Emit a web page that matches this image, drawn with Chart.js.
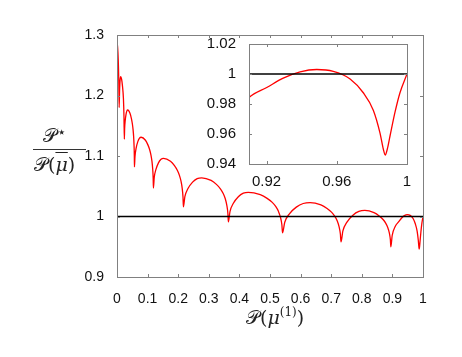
<!DOCTYPE html>
<html>
<head>
<meta charset="utf-8">
<script src="https://cdn.jsdelivr.net/npm/chart.js@4.4.0/dist/chart.umd.min.js"></script>
<style>
  body { margin:0; background:#fff; }
  #wrap { position:relative; width:462px; height:357px; overflow:hidden; }
  #main { position:absolute; left:0; top:0; }
  #inset { position:absolute; left:200px; top:30px; }
  .lbl { position:absolute; font-family:"DejaVu Serif", "Liberation Serif", serif; font-size:19px; color:#222; white-space:nowrap; line-height:1; }
  .lbl i { font-style:italic; }
  .lbl sup { font-size:12px; vertical-align:8px; }
  .lbl sup.star { font-size:15px; vertical-align:5px; font-family:"DejaVu Sans", sans-serif; }
  .ov { text-decoration:overline; }
  #ynum { left:43px; top:125px; }
  #ybar { position:absolute; left:33px; top:149px; width:53px; height:0; border-top:1px solid #333; }
  #yden { left:34px; top:155px; }
  #xlab { left:246px; top:306px; }
</style>
</head>
<body>
<div id="wrap">
  <canvas id="main" width="462" height="357"></canvas>
  <canvas id="inset" width="220" height="160"></canvas>
  <div class="lbl" id="ynum">𝒫<sup class="star">⋆</sup></div>
  <div id="ybar"></div>
  <div class="lbl" id="yden">𝒫(<i class="ov">μ</i>)</div>
  <div class="lbl" id="xlab">𝒫(<i>μ</i><sup>(1)</sup>)</div>
</div>
<script>
// values
const ratioX = [
  0.000, 0.002, 0.004, 0.0058, 0.007,
  0.0085, 0.010, 0.012, 0.015, 0.018, 0.021, 0.0228, 0.024,
  0.0249, 0.0268, 0.0295, 0.0323, 0.035, 0.0427, 0.0471, 0.0504, 0.0526, 0.0544, 0.0557, 0.0566, 0.057,
  0.0588, 0.0625, 0.068, 0.0735, 0.079, 0.093, 0.101, 0.107, 0.111, 0.1142, 0.1166, 0.1182, 0.119,
  0.1216, 0.1273, 0.1355, 0.1438, 0.152, 0.1748, 0.1878, 0.1975, 0.204, 0.2092, 0.2131, 0.2157, 0.217,
  0.2218, 0.232, 0.247, 0.262, 0.277, 0.3075, 0.3249, 0.3379, 0.3466, 0.3536, 0.3588, 0.3623, 0.364,
  0.3692, 0.3803, 0.3965, 0.4128, 0.429, 0.4682, 0.4906, 0.5074, 0.5186, 0.5276, 0.5343, 0.5388, 0.541,
  0.5482, 0.5635, 0.586, 0.6085, 0.631, 0.6664, 0.6866, 0.7017, 0.7118, 0.7199, 0.7259, 0.730, 0.732,
  0.7382, 0.7515, 0.771, 0.7905, 0.810, 0.8398, 0.8568, 0.8695, 0.878, 0.8848, 0.8899, 0.8933, 0.895,
  0.8993, 0.910, 0.9201, 0.9295, 0.9391, 0.9486, 0.958, 0.9676, 0.9751, 0.9808,
  0.9846, 0.9865, 0.9876, 0.9888, 0.9903, 0.9932, 0.996, 1.000
];
const ratioY = [
  1.288, 1.280, 1.260, 1.225, 1.180,
  1.210, 1.225, 1.231, 1.227, 1.215, 1.195, 1.165, 1.128,
  1.1448, 1.1582, 1.1688, 1.1746, 1.176, 1.1704, 1.1619, 1.1525, 1.1431, 1.1318, 1.1177, 1.1008, 1.082,
  1.0992, 1.1129, 1.1237, 1.1295, 1.131, 1.126, 1.1184, 1.110, 1.1016, 1.0915, 1.0789, 1.0638, 1.047,
  1.0642, 1.0779, 1.0887, 1.0945, 1.096, 1.0912, 1.084, 1.076, 1.068, 1.0584, 1.0464, 1.032, 1.016,
  1.0328, 1.0462, 1.0568, 1.0626, 1.064, 1.0596, 1.0531, 1.0458, 1.0385, 1.0297, 1.0187, 1.0056, 0.991,
  1.0082, 1.0219, 1.0327, 1.0385, 1.040, 1.036, 1.030, 1.0233, 1.0166, 1.0085, 0.9985, 0.9864, 0.973,
  0.9905, 1.0045, 1.0155, 1.0215, 1.023, 1.0191, 1.0133, 1.0068, 1.0003, 0.9925, 0.9827, 0.971, 0.958,
  0.9762, 0.9908, 1.0022, 1.0084, 1.010, 1.0064, 1.001, 0.995, 0.989, 0.9818, 0.9728, 0.962, 0.950,
  0.9686, 0.9844, 0.991, 0.9972, 1.0014, 1.003, 1.0018, 0.9967, 0.9875, 0.9759,
  0.9608, 0.950, 0.946, 0.950, 0.9585, 0.9747, 0.9875, 1.000
];
const refX = [0, 1];
const refY = [1, 1];

const xTicks = [0, 0.1, 0.2, 0.3, 0.4, 0.5, 0.6, 0.7, 0.8, 0.9, 1];
const xTickLabels = ['0', '0.1', '0.2', '0.3', '0.4', '0.5', '0.6', '0.7', '0.8', '0.9', '1'];
const yTicks = [0.9, 1, 1.1, 1.2, 1.3];
const yTickLabels = ['0.9', '1', '1.1', '1.2', '1.3'];
const insetXTicks = [0.92, 0.96, 1];
const insetXTickLabels = ['0.92', '0.96', '1'];
const insetYTicks = [0.94, 0.96, 0.98, 1, 1.02];
const insetYTickLabels = ['0.94', '0.96', '0.98', '1', '1.02'];

const pts = (xs, ys) => xs.map((x, i) => ({x: x, y: ys[i]}));

// box round the plot + inward tick marks on all four sides (matlab look)
const boxTicks = {
  id: 'boxTicks',
  afterDraw(chart, args, opts){
    const {ctx, chartArea: a, scales: {x, y}} = chart;
    const L = opts.len || 3;
    ctx.save();
    ctx.strokeStyle = opts.color || '#808080';
    ctx.lineWidth = 1;
    ctx.beginPath();
    x.ticks.forEach(t => {
      const px = Math.round(x.getPixelForValue(t.value)) + 0.5;
      ctx.moveTo(px, a.bottom); ctx.lineTo(px, a.bottom - L);
      ctx.moveTo(px, a.top); ctx.lineTo(px, a.top + L);
    });
    y.ticks.forEach(t => {
      const py = Math.round(y.getPixelForValue(t.value)) + 0.5;
      ctx.moveTo(a.left, py); ctx.lineTo(a.left + L, py);
      ctx.moveTo(a.right, py); ctx.lineTo(a.right - L, py);
    });
    ctx.stroke();
    ctx.strokeRect(Math.round(a.left) + 0.5, Math.round(a.top) + 0.5,
                   Math.round(a.right - a.left), Math.round(a.bottom - a.top));
    ctx.restore();
  }
};

function makeChart(el, o){
  return new Chart(el, {
    type: 'line',
    data: {
      datasets: [
        {data: pts(refX, refY), borderColor: '#000', borderWidth: 1.5, pointRadius: 0, tension: 0},
        {data: pts(ratioX, ratioY), borderColor: '#ff0000', borderWidth: 1.3, pointRadius: 0,
         cubicInterpolationMode: 'monotone'}
      ]
    },
    options: {
      responsive: false,
      animation: false,
      devicePixelRatio: 1,
      layout: {padding: o.pad},
      plugins: {legend: {display: false}, tooltip: {enabled: false}, boxTicks: {len: o.tickLen}},
      scales: {
        x: {
          type: 'linear', min: o.xmin, max: o.xmax,
          grid: {display: false}, border: {display: false},
          afterBuildTicks: s => { s.ticks = o.xt.map(v => ({value: v})); },
          afterFit: s => { s.height = o.xh; },
          ticks: {
            autoSkip: false, maxRotation: 0, padding: o.xpad, color: '#111',
            font: {family: '"Liberation Sans", Arial, sans-serif', size: o.fs},
            callback: (v, i) => o.xl[i]
          }
        },
        y: {
          type: 'linear', min: o.ymin, max: o.ymax,
          grid: {display: false}, border: {display: false},
          afterBuildTicks: s => { s.ticks = o.yt.map(v => ({value: v})); },
          afterFit: s => { s.width = o.yw; },
          ticks: {
            autoSkip: false, padding: o.ypad, color: '#111',
            font: {family: '"Liberation Sans", Arial, sans-serif', size: o.fs},
            callback: (v, i) => o.yl[i]
          }
        }
      }
    },
    plugins: [boxTicks]
  });
}

makeChart(document.getElementById('main'), {
  pad: {top: 35, right: 39, left: 0, bottom: 0},
  xmin: 0, xmax: 1, ymin: 0.9, ymax: 1.3,
  xt: xTicks, xl: xTickLabels, yt: yTicks, yl: yTickLabels,
  xh: 80, yw: 117, xpad: 6, ypad: 5, fs: 14, tickLen: 3
});

makeChart(document.getElementById('inset'), {
  pad: {top: 12, right: 13, left: 0, bottom: 0},
  xmin: 0.91, xmax: 1, ymin: 0.94, ymax: 1.02,
  xt: insetXTicks, xl: insetXTickLabels, yt: insetYTicks, yl: insetYTickLabels,
  xh: 26, yw: 49, xpad: 1, ypad: 5, fs: 15, tickLen: 3
});
</script>
</body>
</html>
